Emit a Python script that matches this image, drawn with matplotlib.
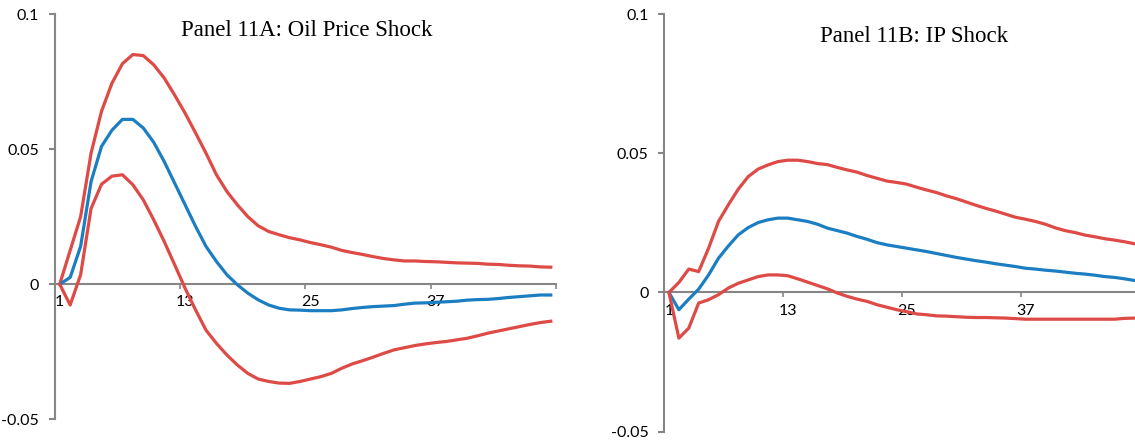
import matplotlib.pyplot as plt

periods = list(range(1, 49))

# Panel 11A: oil price shock (upper band, response, lower band)
oil_upper = [0, 0.0125, 0.025, 0.0485, 0.064, 0.0744, 0.0816, 0.085, 0.0846, 0.0812,
             0.0763, 0.070, 0.0633, 0.056, 0.0485, 0.0405, 0.0343, 0.0294, 0.025, 0.0216,
             0.0195, 0.0183, 0.0172, 0.0164, 0.0154, 0.0146, 0.0137, 0.0125, 0.0117, 0.011,
             0.0102, 0.0095, 0.009, 0.0086, 0.0086, 0.0084, 0.0083, 0.0081, 0.0079, 0.0078,
             0.0077, 0.0074, 0.0073, 0.007, 0.0068, 0.0067, 0.0064, 0.0063]
oil_irf = [0, 0.0025, 0.014, 0.038, 0.051, 0.057, 0.061, 0.061, 0.0578, 0.0525,
           0.0454, 0.0374, 0.0294, 0.0214, 0.014, 0.0084, 0.0035, -0.0002, -0.0033, -0.0058,
           -0.0077, -0.0089, -0.0095, -0.0096, -0.0098, -0.0098, -0.0098, -0.0095, -0.009, -0.0086,
           -0.0083, -0.0081, -0.0079, -0.0074, -0.007, -0.0069, -0.0067, -0.0065, -0.0063, -0.0059,
           -0.0057, -0.0056, -0.0053, -0.0049, -0.0046, -0.0043, -0.004, -0.004]
oil_lower = [0, -0.0077, 0.0035, 0.028, 0.037, 0.040, 0.0405, 0.0368, 0.0312, 0.0238,
             0.0158, 0.0072, -0.0015, -0.0095, -0.017, -0.0219, -0.0262, -0.0299, -0.033, -0.0351,
             -0.036, -0.0366, -0.0367, -0.036, -0.0351, -0.0342, -0.033, -0.0311, -0.0295, -0.0283,
             -0.027, -0.0256, -0.0243, -0.0235, -0.0227, -0.0221, -0.0216, -0.0212, -0.0206, -0.02,
             -0.0191, -0.0181, -0.0173, -0.0165, -0.0157, -0.0149, -0.0142, -0.0137]

# Panel 11B: IP shock
ip_upper = [0, 0.0036, 0.0084, 0.0075, 0.0159, 0.0255, 0.0315, 0.0371, 0.0416, 0.0443,
            0.0458, 0.047, 0.0475, 0.0475, 0.047, 0.0463, 0.0459, 0.0449, 0.044, 0.0432,
            0.042, 0.041, 0.040, 0.0395, 0.0389, 0.0378, 0.0368, 0.0359, 0.0347, 0.0337,
            0.0325, 0.0313, 0.0302, 0.0292, 0.0281, 0.027, 0.0263, 0.0255, 0.0245, 0.0232,
            0.0222, 0.0215, 0.0206, 0.02, 0.0193, 0.0188, 0.0182, 0.0175]
ip_irf = [0, -0.0062, -0.0024, 0.0012, 0.0063, 0.0123, 0.0167, 0.0207, 0.0233, 0.0251,
          0.0261, 0.0267, 0.0267, 0.0261, 0.0255, 0.0245, 0.0231, 0.0222, 0.0213, 0.0201,
          0.0191, 0.0179, 0.0171, 0.0165, 0.0159, 0.0153, 0.0147, 0.014, 0.0133, 0.0126,
          0.012, 0.0114, 0.0109, 0.0103, 0.0098, 0.0093, 0.0087, 0.0084, 0.008, 0.0077,
          0.0073, 0.0069, 0.0066, 0.0062, 0.0057, 0.0054, 0.0049, 0.0043]
ip_lower = [0, -0.0164, -0.0128, -0.0038, -0.0026, -0.0008, 0.0016, 0.0033, 0.0045, 0.0057,
            0.0063, 0.0063, 0.006, 0.0049, 0.0037, 0.0025, 0.0013, -0.0002, -0.0014, -0.0024,
            -0.0032, -0.0044, -0.0053, -0.0062, -0.0069, -0.0077, -0.008, -0.0084, -0.0085, -0.0087,
            -0.0089, -0.009, -0.009, -0.0091, -0.0092, -0.0094, -0.0096, -0.0096, -0.0096, -0.0096,
            -0.0096, -0.0096, -0.0096, -0.0096, -0.0096, -0.0096, -0.0093, -0.0092]

ytick_vals = [-0.05, 0, 0.05, 0.1]
ytick_labels = ['-0.05', '0', '0.05', '0.1']
xlabel_pos = [1, 13, 25, 37]
xtick_marks = [12.5, 24.5, 36.5, 48.5]

red = '#DE4A45'
blue = '#1B7EC2'
gray = '#868686'

plt.rcParams['font.family'] = ['Lato', 'DejaVu Sans']

W, H = 1135.0, 440.0
fig = plt.figure(figsize=(11.35, 4.4), dpi=100)
ax1 = fig.add_axes([54.5 / W, 20.7 / H, 501.5 / W, 405.3 / H])
ax2 = fig.add_axes([664 / W, 8.3 / H, 475.5 / W, 417.7 / H])


def style(ax):
	ax.set_xlim(0.5, 48.5)
	ax.set_ylim(-0.05, 0.1)
	ax.patch.set_alpha(0)
	ax.spines['top'].set_visible(False)
	ax.spines['right'].set_visible(False)
	ax.spines['bottom'].set_position(('data', 0))
	for sp in ['left', 'bottom']:
		ax.spines[sp].set_color(gray)
		ax.spines[sp].set_linewidth(1.5)
		ax.spines[sp].set_zorder(1)
	ax.set_yticks(ytick_vals)
	ax.set_yticklabels(ytick_labels)
	ax.tick_params(axis='y', direction='out', length=4, width=1.5, color=gray,
	               pad=7, labelsize=11.5, labelcolor='black')
	ax.set_xticks(xtick_marks)
	ax.set_xticklabels([])
	ax.tick_params(axis='x', which='major', direction='out', length=3.5, width=1.2, color=gray)
	ax.set_xticks(xlabel_pos, minor=True)
	ax.set_xticklabels([str(v) for v in xlabel_pos], minor=True)
	ax.tick_params(axis='x', which='minor', length=0, pad=8, labelsize=11.5, labelcolor='black')


for ax, up, mid, lo in [(ax1, oil_upper, oil_irf, oil_lower), (ax2, ip_upper, ip_irf, ip_lower)]:
	style(ax)
	ax.plot(periods, up, color=red, lw=2.3, solid_joinstyle='round', zorder=3, clip_on=False)
	ax.plot(periods, mid, color=blue, lw=2.3, solid_joinstyle='round', zorder=3, clip_on=False)
	ax.plot(periods, lo, color=red, lw=2.3, solid_joinstyle='round', zorder=3, clip_on=False)

fig.text(307 / W, 1 - 31 / H, 'Panel 11A: Oil Price Shock', ha='center', va='center',
         fontsize=16.5, family='Liberation Serif')
fig.text(914 / W, 1 - 37 / H, 'Panel 11B: IP Shock', ha='center', va='center',
         fontsize=16.5, family='Liberation Serif')

plt.savefig('out.png', dpi=100)
